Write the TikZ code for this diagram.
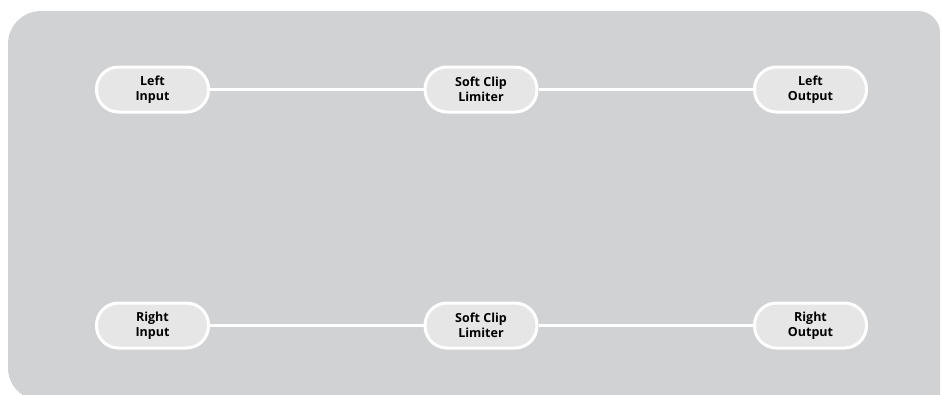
\documentclass[tikz,border=0pt]{standalone}
\usepackage{fontspec}
\setmainfont{Open Sans}
\usepackage{xcolor}
\usepackage{tikz}
\usetikzlibrary{positioning}

\definecolor{panelgray}{HTML}{D1D2D4}
\definecolor{pillgray}{HTML}{E6E6E6}

\begin{document}
\begin{tikzpicture}[
    x=1pt, y=-1pt,
    pill/.style={rectangle, rounded corners=22pt, draw=white, line width=3pt, fill=pillgray,
                 minimum width=112pt, minimum height=45pt, align=center,
                 font=\fontsize{12.5}{14.5}\selectfont\bfseries},
    wire/.style={draw=white, line width=2.5pt},
]
    % Panel
    \useasboundingbox (0,0) rectangle (942,394);
    \fill[panelgray] (8,200) [rounded corners=33pt] -- (8,11)
        [rounded corners=22pt] -- (940,11)
        [sharp corners] -- (940,400) -- (40,400)
        [rounded corners=32pt] -- (8,400) [sharp corners] -- cycle;

    % Nodes
    \node[pill] (linput) at (152.5,89.5) {Left\\Input};
    \node[pill] (lclip) at (481,89.5) {Soft Clip\\Limiter};
    \node[pill] (loutput) at (810.5,89.5) {Left\\Output};
    \node[pill] (rinput) at (152.5,325.5) {Right\\Input};
    \node[pill] (rclip) at (481,325.5) {Soft Clip\\Limiter};
    \node[pill] (routput) at (810.5,325.5) {Right\\Output};

    % Wires
    \draw[wire] (linput) -- (lclip);
    \draw[wire] (lclip) -- (loutput);
    \draw[wire] (rinput) -- (rclip);
    \draw[wire] (rclip) -- (routput);
\end{tikzpicture}
\end{document}
